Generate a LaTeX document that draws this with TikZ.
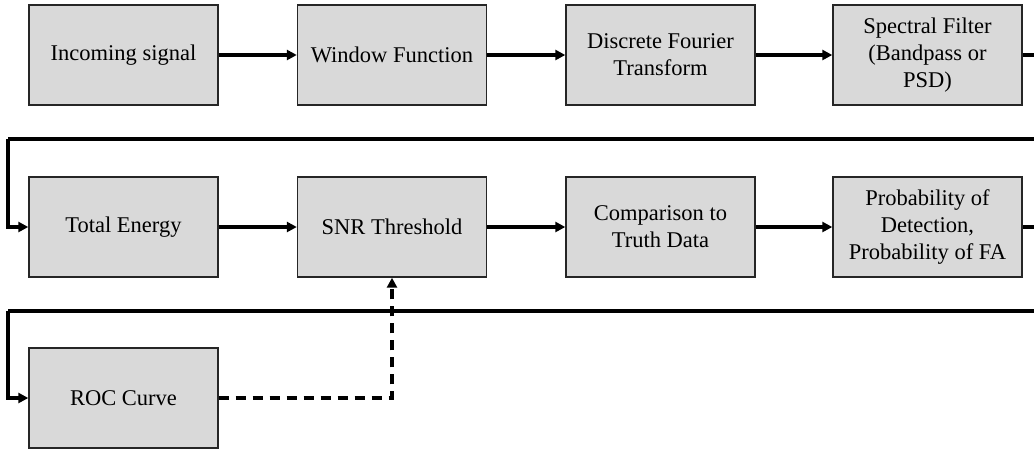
\documentclass[tikz,border=0pt]{standalone}
\usepackage{fontspec}
\setmainfont{Liberation Serif}
\usetikzlibrary{arrows.meta}
\begin{document}
\begin{tikzpicture}[x=1pt,y=-1pt,
  blk/.style={draw=black!85,line width=1.4pt,fill=black!15,minimum width=189pt,minimum height=100pt,inner sep=2pt,align=center,font=\fontsize{22.5}{27}\selectfont},
  conn/.style={line width=3.2pt,-{Triangle[length=10pt,width=10pt]}},
  ret/.style={line width=3.2pt},
  dsh/.style={line width=3.2pt,dash pattern=on 10pt off 7pt,-{Triangle[length=10pt,width=10pt]}}]
\useasboundingbox (0,0) rectangle (1034,451);
\clip (0,0) rectangle (1034,451);
\node[blk] (in) at (123.5,55) {Incoming signal};
\node[blk] (wf) at (392,55) {Window Function};
\node[blk] (dft) at (660.5,55) {Discrete Fourier\\Transform};
\node[blk] (sf) at (927.5,55) {Spectral Filter\\(Bandpass or\\PSD)};
\node[blk] (te) at (123.5,227) {Total Energy};
\node[blk] (snr) at (392,227) {SNR Threshold};
\node[blk] (cmp) at (660.5,227) {Comparison to\\Truth Data};
\node[blk] (pd) at (927.5,227) {Probability of\\Detection,\\Probability of FA};
\node[blk] (roc) at (123.5,398) {ROC Curve};
\coordinate (r1) at (1045,55);
\coordinate (r1b) at (1045,139);
\coordinate (l1) at (8,139);
\coordinate (r2) at (1045,227);
\coordinate (r2b) at (1045,311);
\coordinate (l2) at (8,311);
\coordinate (dc) at (392,398);
\draw[conn] (in) -- (wf);
\draw[conn] (wf) -- (dft);
\draw[conn] (dft) -- (sf);
\draw[ret] (sf.east) -- (r1) -- (r1b) -- (l1);
\draw[conn] (l1) |- (te.west);
\draw[conn] (te) -- (snr);
\draw[conn] (snr) -- (cmp);
\draw[conn] (cmp) -- (pd);
\draw[ret] (pd.east) -- (r2) -- (r2b) -- (l2);
\draw[conn] (l2) |- (roc.west);
\draw[dsh] (roc.east) -- (dc) -- (snr.south);
\end{tikzpicture}
\end{document}
